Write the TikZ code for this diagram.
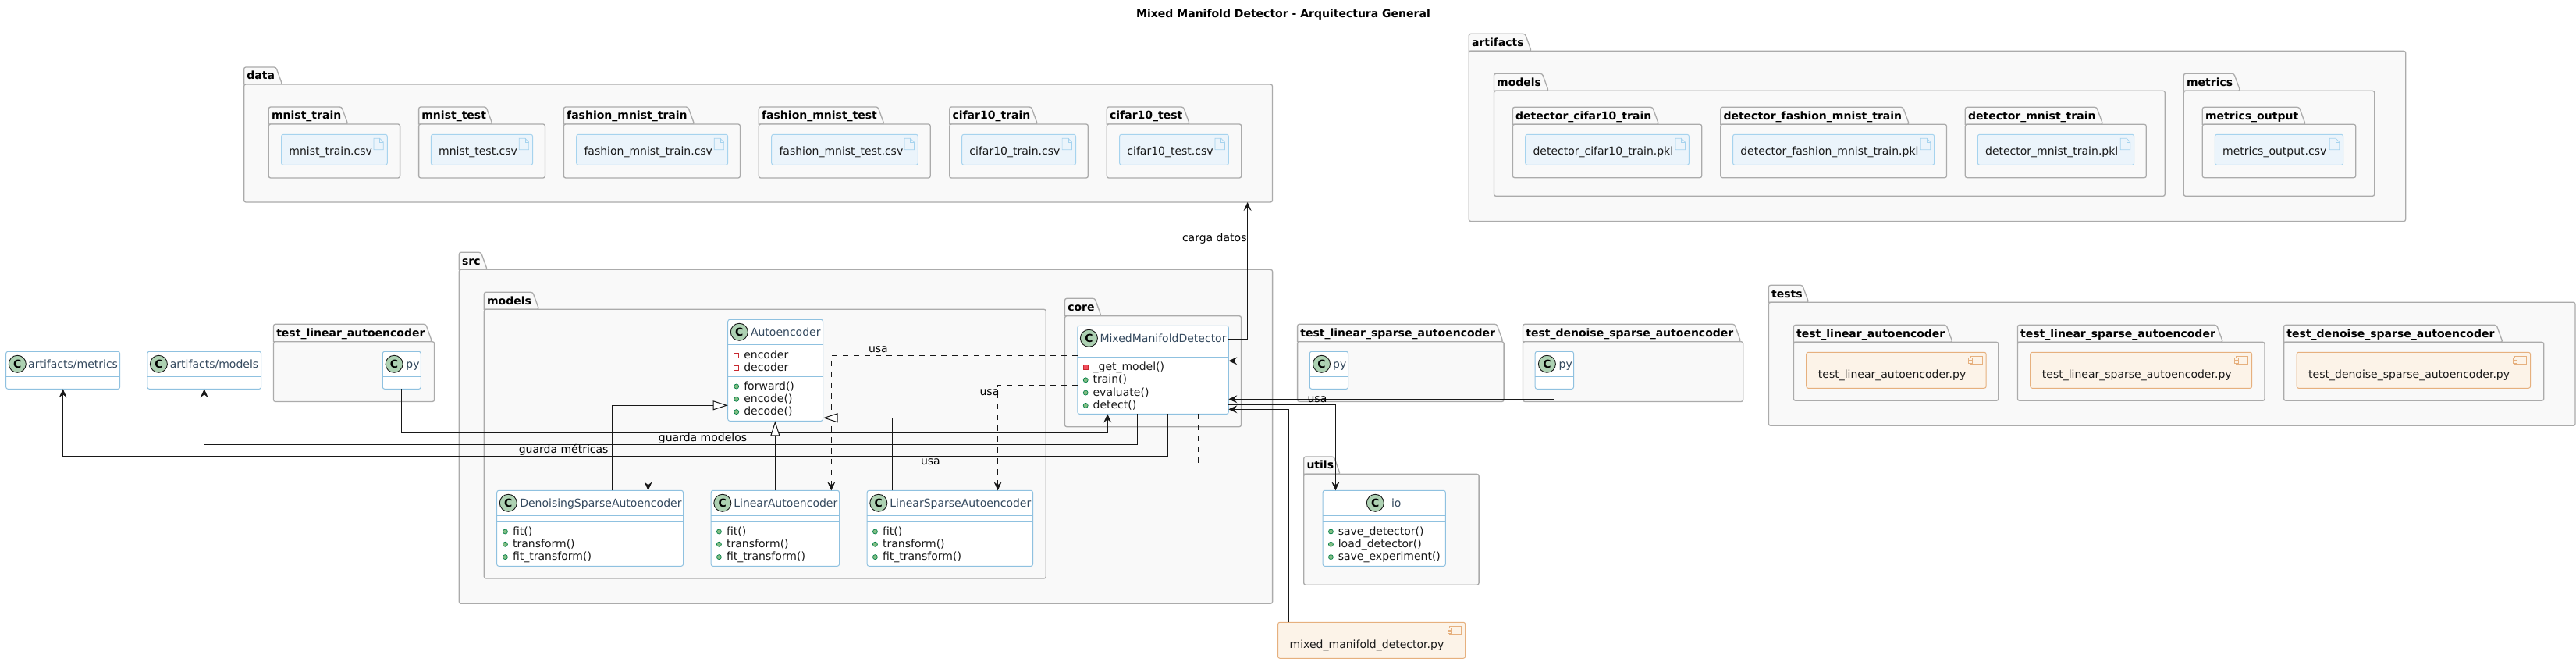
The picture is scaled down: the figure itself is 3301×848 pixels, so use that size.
\documentclass[tikz,border=0pt]{standalone}
\usepackage{fontspec}
\setmainfont{DejaVu Sans}
\usetikzlibrary{arrows.meta,calc}
\definecolor{pkgfill}{HTML}{F9F9F9}
\definecolor{pkgedge}{HTML}{ABABAB}
\definecolor{clsedge}{HTML}{8FC1E0}
\definecolor{artfill}{HTML}{EBF4FB}
\definecolor{artedge}{HTML}{A6D3EE}
\definecolor{cmpfill}{HTML}{FCF3E8}
\definecolor{cmpedge}{HTML}{E6B07E}
\definecolor{headtxt}{HTML}{34495E}
\definecolor{linecol}{HTML}{181818}
\definecolor{circfill}{HTML}{ADD1B2}
\definecolor{pubfill}{HTML}{84BE84}
\definecolor{pubedge}{HTML}{038048}
\definecolor{privedge}{HTML}{C82930}
\definecolor{privfill}{HTML}{F24D5C}
\newcounter{nid}
\newcommand\fresh{\stepcounter{nid}}
\tikzset{
  x=1pt,y=-1pt,
  every node/.style={font=\fontsize{14}{16}\selectfont},
  pkgbody/.style={draw=pkgedge,fill=pkgfill,line width=1.3pt,rounded corners=2.5pt,inner sep=0,outer sep=0},
  pkgtab/.style={draw=pkgedge,fill=pkgfill,line width=1.3pt},
  pkglabel/.style={anchor=base west,inner sep=0,outer sep=0,font=\fontsize{14}{16}\selectfont\bfseries,text=black},
  artbox/.style={draw=artedge,fill=artfill,line width=1pt,rounded corners=2.5pt,inner sep=0,outer sep=0},
  artline/.style={draw=artedge,line width=.7pt},
  cmpbox/.style={draw=cmpedge,fill=cmpfill,line width=1pt,rounded corners=2.5pt,inner sep=0,outer sep=0},
  cmpline/.style={draw=cmpedge,fill=cmpfill,line width=.8pt},
  clsbox/.style={draw=clsedge,fill=white,line width=1pt,rounded corners=2.5pt,inner sep=0,outer sep=0},
  clsline/.style={draw=clsedge,line width=1pt},
  bodytxt/.style={anchor=base west,inner sep=0,outer sep=0,text=black!90},
  headlabel/.style={anchor=base west,inner sep=0,outer sep=0,text=headtxt},
  circmark/.style={circle,draw=linecol,fill=circfill,line width=.9pt,minimum size=22pt,inner sep=0,font=\fontsize{14}{16}\selectfont\bfseries},
  pubmark/.style={circle,draw=pubedge,fill=pubfill,line width=.7pt,minimum size=6pt,inner sep=0},
  privhollow/.style={rectangle,draw=privedge,fill=white,line width=.8pt,minimum size=6pt,inner sep=0},
  privsolid/.style={rectangle,draw=privedge,fill=privfill,line width=.8pt,minimum size=6pt,inner sep=0},
  rel/.style={draw=linecol,line width=1pt},
  dashrel/.style={rel,dash pattern=on 7pt off 7pt},
  openhead/.style={-{Stealth[length=11pt,width=10pt,inset=4pt,color=linecol]}},
  inherit/.style={-{Triangle[open,length=19pt,width=12pt,fill=white,color=linecol]}},
  linklabel/.style={anchor=base west,inner sep=0,outer sep=0,text=black}
}
% name x1 tabtop tabright bodytop x2 y2 label
\newcommand\mkpkg[8]{%
  \draw[pkgtab,rounded corners=2.5pt] (#2,#5) -- (#2,#3) -- ({#4-8},#3) -- (#4,#5) [sharp corners] -- cycle;
  \node[pkgbody,minimum width={(#6-#2)*1pt},minimum height={(#7-#5)*1pt}] (#1) at ({(#2+#6)/2},{(#5+#7)/2}) {};
  \node[pkglabel] (#1-label) at ({#2+3.8},{#3+15.8}) {#8};
}
% name x1 x2 label
\newcommand\mkart[4]{%
  \node[artbox,minimum width={(#3-#2)*1pt},minimum height=39pt] (#1) at ({(#2+#3)/2},191.8) {};
  \node[bodytxt] (#1-label) at ({#2+9.8},198.3) {#4};
  \draw[artline] ({#3-17.4},177.3) -- ({#3-9.6},177.3) -- ({#3-5},182) -- ({#3-5},191.7) -- ({#3-17.4},191.7) -- cycle;
  \draw[artline] ({#3-9.6},177.3) -- ({#3-9.6},182) -- ({#3-5},182);
}
% name x1 y1 x2 y2 label
\newcommand\mkcmp[6]{%
  \node[cmpbox,minimum width={(#4-#2)*1pt},minimum height={(#5-#3)*1pt}] (#1) at ({(#2+#4)/2},{(#3+#5)/2}) {};
  \node[bodytxt] (#1-label) at ({#2+15.2},{#3+32.7}) {#6};
  \draw[cmpline] ({#4-20},{#3+5.4}) rectangle ({#4-5},{#3+15.4});
  \draw[cmpline] ({#4-22.7},{#3+7.2}) rectangle ({#4-17.7},{#3+9.6});
  \draw[cmpline] ({#4-22.7},{#3+11.2}) rectangle ({#4-17.7},{#3+13.6});
}
% name x1 y1 x2 y2 h1 h2
\newcommand\mkcls[7]{%
  \node[clsbox,minimum width={(#4-#2)*1pt},minimum height={(#5-#3)*1pt}] (#1) at ({(#2+#4)/2},{(#3+#5)/2}) {};
  \draw[clsline] (#2,#6) -- (#4,#6) (#2,#7) -- (#4,#7);
}
% name circlex y1 textx text
\newcommand\mkhead[5]{%
  \node[circmark] (#1-c) at (#2,{#3+16}) {C};
  \node[headlabel] (#1-t) at (#4,{#3+20.7}) {#5};
}
% style markx textx base text
\newcommand\mkmem[5]{%
  \fresh
  \node[#1] (mk\arabic{nid}) at (#2,{#4-4}) {};
  \node[bodytxt] (tx\arabic{nid}) at (#3,#4) {#5};
}
\begin{document}
\begin{tikzpicture}
\useasboundingbox (0,0) rectangle (3301,848);
\node[anchor=base,inner sep=0,font=\fontsize{14}{16}\selectfont\bfseries] (title) at (1644.5,23) {Mixed Manifold Detector - Arquitectura General};

% data
\mkpkg{data}{312.6}{86}{361.6}{108}{1630.5}{259}{data}
\mkpkg{pmt}{344.3}{137}{445.8}{159}{512.6}{228}{mnist\_train}
\mkart{amt}{360.6}{496.3}{mnist\_train.csv}
\mkpkg{pme}{536.6}{137}{631}{159}{698.4}{228}{mnist\_test}
\mkart{ame}{552.4}{682.6}{mnist\_test.csv}
\mkpkg{pft}{722.4}{137}{889.7}{159}{948.4}{228}{fashion\_mnist\_train}
\mkart{aft}{738.7}{932.6}{fashion\_mnist\_train.csv}
\mkpkg{pfe}{972.3}{137}{1133}{159}{1192.2}{228}{fashion\_mnist\_test}
\mkart{afe}{988.7}{1176.4}{fashion\_mnist\_test.csv}
\mkpkg{pct}{1216.7}{137}{1329.5}{159}{1394.3}{228}{cifar10\_train}
\mkart{act}{1232.6}{1378.5}{cifar10\_train.csv}
\mkpkg{pce}{1418.3}{137}{1524.4}{159}{1590.7}{228}{cifar10\_test}
\mkart{ace}{1434.6}{1574.4}{cifar10\_test.csv}

% artifacts
\mkpkg{artifacts}{1882.2}{43.3}{1962.3}{65.3}{3082.7}{283.5}{artifacts}
\mkpkg{amodels}{1914.4}{94.3}{1984.3}{116.3}{2774.3}{251.3}{models}
\mkpkg{pdc}{1938.4}{137.3}{2125.6}{159.3}{2180.7}{227.7}{detector\_cifar10\_train}
\mkart{adc}{1954.7}{2164.4}{detector\_cifar10\_train.pkl}
\mkpkg{pdf}{2204.7}{137.3}{2446.5}{159.3}{2494.5}{227.7}{detector\_fashion\_mnist\_train}
\mkart{adf}{2220.5}{2478.7}{detector\_fashion\_mnist\_train.pkl}
\mkpkg{pdm}{2518.3}{137.3}{2694.7}{159.3}{2750.3}{227.7}{detector\_mnist\_train}
\mkart{adm}{2534.3}{2734.7}{detector\_mnist\_train.pkl}
\mkpkg{ametrics}{2798.3}{94.3}{2870.7}{116.3}{3042.7}{251.3}{metrics}
\mkpkg{pmo}{2822.3}{137.3}{2954.3}{159.3}{3018.7}{227.7}{metrics\_output}
\mkart{amo}{2838.3}{3002.7}{metrics\_output.csv}

% tests
\mkpkg{tests}{2266.4}{365.3}{2317.7}{387.3}{3300}{545.3}{tests}
\mkpkg{ptl}{2298.4}{416.3}{2502}{438.3}{2560.8}{513.3}{test\_linear\_autoencoder}
\mkcmp{ctl}{2314.7}{451.3}{2545.2}{497.3}{test\_linear\_autoencoder.py}
\mkpkg{pts}{2585.4}{416.3}{2848.5}{438.3}{2902}{513.3}{test\_linear\_sparse\_autoencoder}
\mkcmp{cts}{2601.7}{451.3}{2885.7}{497.3}{test\_linear\_sparse\_autoencoder.py}
\mkpkg{ptd}{2926.6}{416.3}{3207}{438.3}{3259.7}{513.3}{test\_denoise\_sparse\_autoencoder}
\mkcmp{ctd}{2943}{451.3}{3242.6}{497.3}{test\_denoise\_sparse\_autoencoder.py}

% src
\mkpkg{src}{588.3}{323.3}{624.3}{345.3}{1630.6}{773.3}{src}
\mkpkg{smodels}{620.3}{374.3}{690.7}{396.3}{1340.3}{741}{models}
\mkpkg{core}{1364.5}{382.3}{1411}{404.7}{1590.5}{546.7}{core}
\mkpkg{utils}{1670.7}{585}{1717.3}{607.3}{1895.1}{749.3}{utils}
\mkpkg{p1}{350.5}{415.3}{553.6}{437.7}{556.6}{514.5}{test\_linear\_autoencoder}
\mkpkg{p3}{1662.6}{415.3}{1926}{437.7}{1927.1}{514.5}{test\_linear\_sparse\_autoencoder}
\mkpkg{p4}{1951.5}{415.3}{2230.7}{437.7}{2233.7}{514.5}{test\_denoise\_sparse\_autoencoder}

% classes
\mkcls{am}{7.7}{450.3}{153.6}{498.3}{482.3}{490.3}
\mkhead{am}{22.3}{450.3}{36.2}{artifacts/metrics}
\mkcls{amo2}{188.8}{450.3}{334.7}{498.3}{482.3}{490.3}
\mkhead{amo2}{203.4}{450.3}{217.9}{artifacts/models}
\mkcls{py1}{490.3}{450.3}{539.3}{498.3}{482.3}{490.3}
\mkhead{py1}{505.1}{450.3}{520.4}{py}
\mkcls{py3}{1678.3}{450.3}{1727.6}{498.3}{482.3}{490.3}
\mkhead{py3}{1693.5}{450.3}{1708.1}{py}
\mkcls{py4}{1967.2}{450.3}{2016.5}{498.3}{482.3}{490.3}
\mkhead{py4}{1982.4}{450.3}{1997.6}{py}

\mkcls{ae}{932.7}{409.3}{1054.6}{539.3}{441.3}{482.7}
\mkhead{ae}{947.3}{409.3}{962}{Autoencoder}
\mkmem{privhollow}{943.7}{953.3}{459}{encoder}
\mkmem{privhollow}{943.7}{953.3}{475.3}{decoder}
\mkmem{pubmark}{943.7}{953.3}{499}{forward()}
\mkmem{pubmark}{943.7}{953.3}{515.3}{encode()}
\mkmem{pubmark}{943.7}{953.3}{531.6}{decode()}

\mkcls{den}{636.7}{628.3}{875.5}{725.3}{660.3}{668.7}
\mkhead{den}{651.3}{628.3}{666.3}{DenoisingSparseAutoencoder}
\mkmem{pubmark}{647.4}{657.1}{685}{fit()}
\mkmem{pubmark}{647.4}{657.1}{701.3}{transform()}
\mkmem{pubmark}{647.4}{657.1}{717.6}{fit\_transform()}

\mkcls{lin}{911.2}{628.3}{1075.5}{725.3}{660.3}{668.7}
\mkhead{lin}{925.8}{628.3}{940.3}{LinearAutoencoder}
\mkmem{pubmark}{921.4}{931.1}{685}{fit()}
\mkmem{pubmark}{921.4}{931.1}{701.3}{transform()}
\mkmem{pubmark}{921.4}{931.1}{717.6}{fit\_transform()}

\mkcls{sp}{1111.2}{628.3}{1323.5}{725.3}{660.3}{668.7}
\mkhead{sp}{1125.8}{628.3}{1140.3}{LinearSparseAutoencoder}
\mkmem{pubmark}{1121.4}{1131.1}{685}{fit()}
\mkmem{pubmark}{1121.4}{1131.1}{701.3}{transform()}
\mkmem{pubmark}{1121.4}{1131.1}{717.6}{fit\_transform()}

\mkcls{mmd}{1380.8}{417.3}{1574.3}{530.3}{449.3}{457.3}
\mkhead{mmd}{1395.4}{417.3}{1409.5}{MixedManifoldDetector}
\mkmem{privsolid}{1391.2}{1400.6}{474.5}{\_get\_model()}
\mkmem{pubmark}{1391.2}{1400.6}{490.8}{train()}
\mkmem{pubmark}{1391.2}{1400.6}{507.1}{evaluate()}
\mkmem{pubmark}{1391.2}{1400.6}{523.4}{detect()}

\mkcls{io}{1695.1}{628.3}{1852.3}{725.3}{660.3}{668.7}
\mkhead{io}{1762.3}{628.3}{1783}{io}
\mkmem{pubmark}{1705.4}{1714.8}{685}{save\_detector()}
\mkmem{pubmark}{1705.4}{1714.8}{701.3}{load\_detector()}
\mkmem{pubmark}{1705.4}{1714.8}{717.6}{save\_experiment()}

\mkcmp{cmain}{1637.5}{797.3}{1877.7}{843.3}{mixed\_manifold\_detector.py}

% routing points
\coordinate (wdata) at (1598.6,434.3);
\coordinate (w1) at (1419.2,554.3);
\coordinate (w2) at (1457.2,569.3);
\coordinate (w3) at (1496.2,584.3);
\coordinate (w4) at (1535.2,599.3);
\coordinate (w4b) at (830.6,599.3);
\coordinate (w5) at (1065.3,455.3);
\coordinate (w6) at (1278.6,493.3);
\coordinate (w7) at (784.7,519.3);
\coordinate (w9) at (1143.4,535.3);
\coordinate (w10) at (1600,462.3);
\coordinate (w11) at (1600,511.3);
\coordinate (w12) at (1711.4,518.7);
\coordinate (w13) at (1651.2,524.3);

% connectors
\draw[rel,openhead] (mmd.east |- wdata) -- (wdata) -- (data.south -| wdata);
\draw[rel,openhead] (py1.south) |- (w1) -- (mmd.south -| w1);
\draw[rel,openhead] (mmd.south -| w2) -- (w2) -| (amo2.south);
\draw[rel,openhead] (mmd.south -| w3) -- (w3) -| (am.south);
\draw[dashrel,openhead] (mmd.south -| w4) -- (w4) -- (w4b) -- (den.north -| w4b);
\draw[dashrel,openhead] (mmd.west |- w5) -- (w5) -- (lin.north -| w5);
\draw[dashrel,openhead] (mmd.west |- w6) -- (w6) -- (sp.north -| w6);
\draw[rel,inherit] (den.north -| w7) -- (w7) -- (ae.west |- w7);
\draw[rel,inherit] (lin.north) -- (lin.north |- ae.south);
\draw[rel,inherit] (sp.north -| w9) -- (w9) -- (ae.east |- w9);
\draw[rel,openhead] (py3.west |- w10) -- (mmd.east |- w10);
\draw[rel,openhead] (py4.south) |- (mmd.east |- w11);
\draw[rel,openhead] (mmd.east |- w12) -- (w12) -- (io.north -| w12);
\draw[rel,openhead] (cmain.north -| w13) -- (w13) -- (mmd.east |- w13);

% connector labels
\node[linklabel] (lcarga) at (1515,309) {carga datos};
\node[linklabel] (lmod) at (843.9,565.8) {guarda modelos};
\node[linklabel] (lmet) at (664.8,580.8) {guarda métricas};
\node[linklabel] (lusa1) at (1113,451.8) {usa};
\node[linklabel] (lusa2) at (1255.6,506.5) {usa};
\node[linklabel] (lusa3) at (1180,595.8) {usa};
\node[linklabel] (lusa4) at (1675.6,515.5) {usa};
\end{tikzpicture}
\end{document}
